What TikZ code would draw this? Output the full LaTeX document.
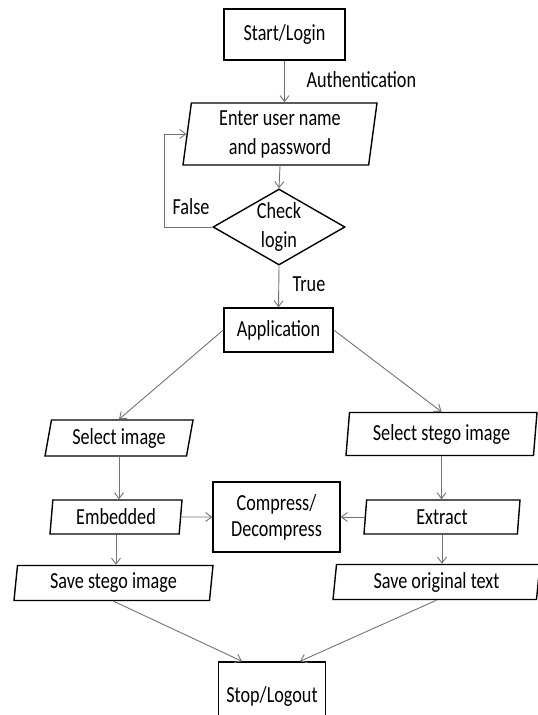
\documentclass[tikz,border=0pt]{standalone}
\usepackage{fontspec}
\setmainfont[FakeStretch=0.79]{Carlito}
\usetikzlibrary{arrows.meta,shapes.geometric}

\begin{document}
\begin{tikzpicture}[x=1pt,y=-1pt,
          every node/.style={font=\fontsize{23}{29}\selectfont},
          box/.style={draw,line width=1.4pt,inner sep=0pt,align=center},
          io/.style={box,trapezium,trapezium left angle=80,trapezium right angle=100,trapezium stretches body=true},
          decision/.style={box,diamond,aspect=1.74},
          conn/.style={draw=black!55,line width=0.9pt,-{Straight Barb[length=6pt,width=9pt]}}]
          \clip (0,0) rectangle (538,715);
          \node[box,minimum width=121,minimum height=51] (start) at (284.5,34.5) {Start/Login};
          \node[anchor=west] (auth) at (303,80) {Authentication};
          \node[io,minimum width=194,minimum height=62] (enter) at (280,134) {Enter user name\\and password};
          \node[decision,minimum width=132,minimum height=76] (check) at (279,227) {Check\\login};
          \node (false) at (191,207) {False};
          \node (true) at (309,284) {True};
          \node[box,minimum width=109,minimum height=44] (app) at (278.5,330) {Application};
          \node[io,trapezium left angle=72,trapezium right angle=108,minimum width=148,minimum height=36] (selimg) at (119,438) {Select image};
          \node[io,minimum width=191,minimum height=43] (selstego) at (441.5,434) {Select stego image};
          \node[io,minimum width=132,minimum height=34] (embed) at (116,517) {Embedded};
          \node[box,font=\fontsize{23}{26}\selectfont,minimum width=127,minimum height=70] (compress) at (276.5,517) {Compress/\\Decompress};
          \node[io,minimum width=156,minimum height=34] (extract) at (442,517) {Extract};
          \node[io,minimum width=199,minimum height=35] (savestego) at (113.5,583) {Save stego image};
          \node[io,minimum width=207,minimum height=35] (saveorig) at (436.5,582) {Save original text};
          \node[box,minimum width=107,minimum height=68] (stop) at (272,696) {Stop/Logout};
          \draw[conn] (start.south) -- (start.south |- enter.north);
          \draw[conn] (enter.south) -- (check.north);
          \draw[conn] (check.west) -- ++(-48,0) |- (enter.west);
          \draw[conn] (check.south) -- (app.north);
          \draw[conn] (app.west) -- (selimg.north);
          \draw[conn] (app.east) -- (selstego.north);
          \draw[conn] (selimg.south) -- (selimg.south |- embed.north);
          \draw[conn] (selstego.south) -- (selstego.south |- extract.north);
          \draw[conn] (embed.east) -- (compress.west);
          \draw[conn] (extract.west) -- (compress.east);
          \draw[conn] (embed.south) -- (embed.south |- savestego.north);
          \draw[conn] (extract.south) -- (extract.south |- saveorig.north);
          \draw[conn] (savestego.south) -- ([xshift=-30]stop.north);
          \draw[conn] (saveorig.south) -- ([xshift=28]stop.north);
        \end{tikzpicture}
\end{document}
